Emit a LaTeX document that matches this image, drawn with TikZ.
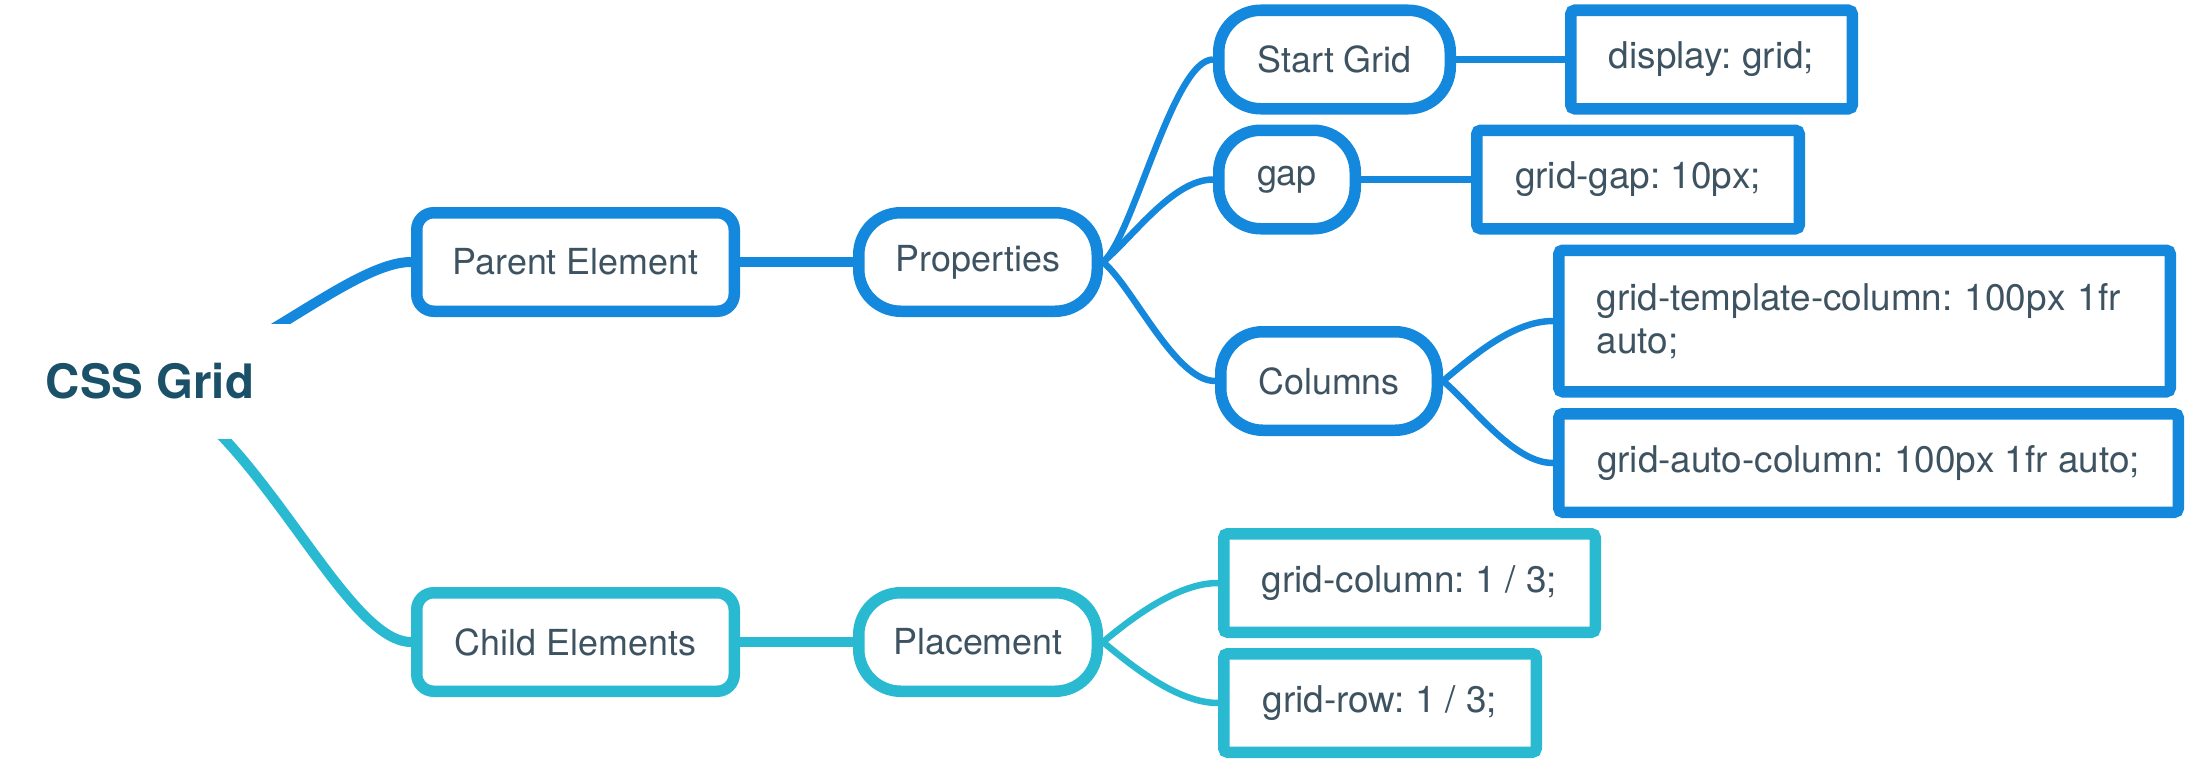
\documentclass[tikz,border=0pt]{standalone}
\usepackage{fontspec}
\setmainfont{TeX Gyre Heros}
\usetikzlibrary{positioning,backgrounds}

\definecolor{branchblue}{HTML}{1488DC}
\definecolor{branchcyan}{HTML}{29BAD2}
\definecolor{labelgray}{HTML}{3E5361}
\definecolor{rootteal}{HTML}{1B5168}

\begin{document}
\frenchspacing
\begin{tikzpicture}[font=\fontsize{10.2}{12.3}\selectfont, text=labelgray]
        % Define block styles
        \tikzstyle{root} = [rectangle, fill=white, text=rootteal, font=\fontsize{13.5}{16}\selectfont\bfseries,
            minimum width=3cm, minimum height=1.15cm, inner sep=0pt, outer sep=0pt]
        \tikzstyle{topic} = [rectangle, draw, fill=white, line width=0.115cm, 
            rounded corners=0.17cm, minimum width=3.175cm, minimum height=0.985cm]
        \tikzstyle{sub} = [rectangle, draw, fill=white, line width=0.115cm, 
            rounded corners=0.42cm, minimum height=0.985cm]
        \tikzstyle{leaf} = [rectangle, draw, fill=white, line width=0.115cm, font=\fontsize{10.5}{12.3}\selectfont,
            rounded corners=0.04cm, minimum height=0.985cm]
        \tikzstyle{trunk} = [draw, line width=0.1cm]
        \tikzstyle{twig} = [draw, line width=0.065cm]

        \useasboundingbox (0,0) rectangle (21.9,-7.62);

        % Nodes
        \node [root] (css) at (1.5,-3.81) {CSS Grid};
        \node [topic, draw=branchblue, right=1.11cm of css, yshift=1.19cm] (parent) {Parent Element};
        \node [topic, draw=branchcyan, right=1.11cm of css, yshift=-2.61cm] (child) {Child Elements};
        \node [sub, draw=branchblue, minimum width=2.385cm, right=1.13cm of parent] (props) {Properties};
        \node [sub, draw=branchcyan, minimum width=2.385cm, right=1.13cm of child] (place) {Placement};
        \node [sub, draw=branchblue, minimum width=2.315cm, right=1.10cm of props, yshift=2.025cm] (start) {Start Grid};
        \node [sub, draw=branchblue, minimum width=1.365cm, right=1.10cm of props, yshift=0.825cm] (gap) {gap};
        \node [sub, draw=branchblue, minimum width=2.165cm, right=1.12cm of props, yshift=-1.19cm] (cols) {Columns};
        \node [leaf, draw=branchblue, minimum width=2.815cm, right=1.09cm of start] (display) {display: grid;};
        \node [leaf, draw=branchblue, minimum width=3.225cm, right=1.10cm of gap] (gridgap) {grid-gap: 10px;};
        \node [leaf, draw=branchblue, text width=5.355cm, inner xsep=0.38cm, minimum height=1.415cm, align=left,
            right=1.10cm of cols, yshift=0.60cm] (template) {grid-template-column: 100px 1fr\\auto;};
        \node [leaf, draw=branchblue, minimum width=6.195cm, right=1.10cm of cols, yshift=-0.82cm] (autocol) {grid-auto-column: 100px 1fr auto;};
        \node [leaf, draw=branchcyan, minimum width=3.715cm, right=1.15cm of place, yshift=0.59cm] (gridcol) {grid-column: 1 / 3;};
        \node [leaf, draw=branchcyan, minimum width=3.125cm, right=1.15cm of place, yshift=-0.61cm] (gridrow) {grid-row: 1 / 3;};

        % Branches
        \begin{scope}[on background layer]
        \path [trunk, branchblue] (css.center) .. controls +(0.9,0.11) and +(-0.61,0) .. (parent.west);
        \path [trunk, branchcyan] (css.center) .. controls +(1.1,-0.49) and +(-0.67,0) .. (child.west);
        \path [trunk, branchblue] (parent) -- (props);
        \path [trunk, branchcyan] (child) -- (place);
        \path [twig, branchblue] (props.east) .. controls +(0.3,0.25) and +(-0.4,0) .. (start.west);
        \path [twig, branchblue] (props.east) .. controls +(0.3,0.25) and +(-0.4,0) .. (gap.west);
        \path [twig, branchblue] (props.east) .. controls +(0.3,-0.25) and +(-0.4,0) .. (cols.west);
        \path [twig, branchblue] (start) -- (display);
        \path [twig, branchblue] (gap) -- (gridgap);
        \path [twig, branchblue] (cols.east) .. controls +(0.3,0.25) and +(-0.4,0) .. (template.west);
        \path [twig, branchblue] (cols.east) .. controls +(0.3,-0.25) and +(-0.4,0) .. (autocol.west);
        \path [twig, branchcyan] (place.east) .. controls +(0.3,0.25) and +(-0.4,0) .. (gridcol.west);
        \path [twig, branchcyan] (place.east) .. controls +(0.3,-0.25) and +(-0.4,0) .. (gridrow.west);
        \end{scope}
    \end{tikzpicture}
\end{document}
